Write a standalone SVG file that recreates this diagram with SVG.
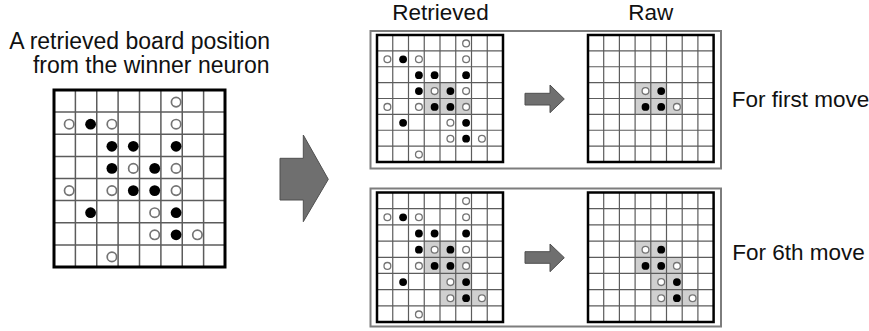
<svg xmlns="http://www.w3.org/2000/svg" width="869" height="331" viewBox="0 0 869 331">
<style>
.t{font-family:"Liberation Sans",Arial,sans-serif;fill:#111}
.bg{fill:#fff}
.hl{fill:#d0d0d0}
.gl{fill:none;stroke:#5c5c5c;stroke-width:1.5}
.gs{fill:none;stroke:#5c5c5c;stroke-width:1.2}
.bl{fill:none;stroke:#000;stroke-width:3}
.bs{fill:none;stroke:#000;stroke-width:2.5}
.panel{fill:#fff;stroke:#7d7d7d;stroke-width:2}
.arr{fill:#6f6f6f;stroke:#4f4f4f;stroke-width:1}
.wL{fill:#fff;stroke:#747474;stroke-width:1.7}
.bL{fill:#000}
.wS{fill:#fff;stroke:#747474;stroke-width:1.3}
.bS{fill:#000}
</style>
<rect width="869" height="331" fill="#fff"/>

<g id="label-left">
<text class="t" x="270" y="49" font-size="23" text-anchor="end">A retrieved board position</text>
<text class="t" x="269.5" y="72.7" font-size="23" text-anchor="end">from the winner neuron</text>
</g>
<g id="label-retrieved"><text class="t" x="440.5" y="20" font-size="22.5" text-anchor="middle">Retrieved</text></g>
<g id="label-raw"><text class="t" x="650.8" y="20" font-size="22.5" text-anchor="middle">Raw</text></g>

<g id="panel-first"><rect class="panel" x="370.5" y="31" width="350.5" height="137.5"/></g>
<g id="panel-sixth"><rect class="panel" x="370.5" y="188.5" width="350.5" height="138"/></g>

<g id="board-left">
<rect class="bg" x="54" y="90" width="171" height="177"/>
<path class="gl" d="M75.4 90V267M96.75 90V267M118.1 90V267M139.5 90V267M160.9 90V267M182.25 90V267M203.6 90V267M54 112.1H225M54 134.25H225M54 156.4H225M54 178.5H225M54 200.6H225M54 222.75H225M54 244.9H225"/>
<rect class="bl" x="54" y="90" width="171" height="177"/>
<g>
<circle class="wL" cx="176.1" cy="102.1" r="4.7"/>
<circle class="wL" cx="69.2" cy="124.2" r="4.7"/>
<circle class="wL" cx="111.9" cy="124.2" r="4.7"/>
<circle class="wL" cx="176.1" cy="124.2" r="4.7"/>
<circle class="wL" cx="133.3" cy="168.4" r="4.7"/>
<circle class="wL" cx="176.1" cy="168.4" r="4.7"/>
<circle class="wL" cx="69.2" cy="190.6" r="4.7"/>
<circle class="wL" cx="111.9" cy="190.6" r="4.7"/>
<circle class="wL" cx="176.1" cy="190.6" r="4.7"/>
<circle class="wL" cx="154.7" cy="212.7" r="4.7"/>
<circle class="wL" cx="154.7" cy="234.8" r="4.7"/>
<circle class="wL" cx="197.4" cy="234.8" r="4.7"/>
<circle class="wL" cx="111.9" cy="256.9" r="4.7"/>
<circle class="bL" cx="90.6" cy="124.2" r="5.4"/>
<circle class="bL" cx="111.9" cy="146.3" r="5.4"/>
<circle class="bL" cx="133.3" cy="146.3" r="5.4"/>
<circle class="bL" cx="176.1" cy="146.3" r="5.4"/>
<circle class="bL" cx="111.9" cy="168.4" r="5.4"/>
<circle class="bL" cx="154.7" cy="168.4" r="5.4"/>
<circle class="bL" cx="133.3" cy="190.6" r="5.4"/>
<circle class="bL" cx="154.7" cy="190.6" r="5.4"/>
<circle class="bL" cx="90.6" cy="212.7" r="5.4"/>
<circle class="bL" cx="176.1" cy="212.7" r="5.4"/>
<circle class="bL" cx="176.1" cy="234.8" r="5.4"/>
</g>
</g>

<g id="board-retrieved-first">
<rect class="bg" x="377" y="35" width="126" height="127"/>
<rect class="hl" x="424.25" y="82.6" width="31.5" height="15.9"/>
<rect class="hl" x="424.25" y="98.5" width="47.25" height="15.9"/>
<path class="gs" d="M392.75 35V162M408.5 35V162M424.25 35V162M440 35V162M455.75 35V162M471.5 35V162M487.25 35V162M377 50.9H503M377 66.75H503M377 82.6H503M377 98.5H503M377 114.4H503M377 130.25H503M377 146.1H503"/>
<rect class="bs" x="377" y="35" width="126" height="127"/>
<g>
<circle class="wS" cx="466.1" cy="43.4" r="3.4"/>
<circle class="wS" cx="387.4" cy="59.3" r="3.4"/>
<circle class="wS" cx="418.9" cy="59.3" r="3.4"/>
<circle class="wS" cx="466.1" cy="59.3" r="3.4"/>
<circle class="wS" cx="434.6" cy="91.1" r="3.4"/>
<circle class="wS" cx="466.1" cy="91.1" r="3.4"/>
<circle class="wS" cx="387.4" cy="106.9" r="3.4"/>
<circle class="wS" cx="418.9" cy="106.9" r="3.4"/>
<circle class="wS" cx="466.1" cy="106.9" r="3.4"/>
<circle class="wS" cx="450.4" cy="122.8" r="3.4"/>
<circle class="wS" cx="450.4" cy="138.7" r="3.4"/>
<circle class="wS" cx="481.9" cy="138.7" r="3.4"/>
<circle class="wS" cx="418.9" cy="154.6" r="3.4"/>
<circle class="bS" cx="403.1" cy="59.3" r="3.9"/>
<circle class="bS" cx="418.9" cy="75.2" r="3.9"/>
<circle class="bS" cx="434.6" cy="75.2" r="3.9"/>
<circle class="bS" cx="466.1" cy="75.2" r="3.9"/>
<circle class="bS" cx="418.9" cy="91.1" r="3.9"/>
<circle class="bS" cx="450.4" cy="91.1" r="3.9"/>
<circle class="bS" cx="434.6" cy="106.9" r="3.9"/>
<circle class="bS" cx="450.4" cy="106.9" r="3.9"/>
<circle class="bS" cx="403.1" cy="122.8" r="3.9"/>
<circle class="bS" cx="466.1" cy="122.8" r="3.9"/>
<circle class="bS" cx="466.1" cy="138.7" r="3.9"/>
</g>
</g>

<g id="board-raw-first">
<rect class="bg" x="588" y="35" width="125.6" height="127"/>
<rect class="hl" x="635.1" y="82.6" width="31.4" height="15.9"/>
<rect class="hl" x="635.1" y="98.5" width="47.1" height="15.9"/>
<path class="gs" d="M603.7 35V162M619.4 35V162M635.1 35V162M650.8 35V162M666.5 35V162M682.2 35V162M697.9 35V162M588 50.9H713.6M588 66.75H713.6M588 82.6H713.6M588 98.5H713.6M588 114.4H713.6M588 130.25H713.6M588 146.1H713.6"/>
<rect class="bs" x="588" y="35" width="125.6" height="127"/>
<g>
<circle class="wS" cx="645.5" cy="91.1" r="3.4"/>
<circle class="wS" cx="676.9" cy="106.9" r="3.4"/>
<circle class="bS" cx="661.2" cy="91.1" r="3.9"/>
<circle class="bS" cx="645.5" cy="106.9" r="3.9"/>
<circle class="bS" cx="661.2" cy="106.9" r="3.9"/>
</g>
</g>

<g id="board-retrieved-sixth">
<rect class="bg" x="377" y="192.5" width="126" height="129.5"/>
<rect class="hl" x="424.25" y="241.1" width="31.5" height="16.2"/>
<rect class="hl" x="424.25" y="257.3" width="47.25" height="16.2"/>
<rect class="hl" x="440" y="273.45" width="31.5" height="16.2"/>
<rect class="hl" x="440" y="289.6" width="47.25" height="16.2"/>
<path class="gs" d="M392.75 192.5V322M408.5 192.5V322M424.25 192.5V322M440 192.5V322M455.75 192.5V322M471.5 192.5V322M487.25 192.5V322M377 208.7H503M377 224.9H503M377 241.1H503M377 257.3H503M377 273.45H503M377 289.6H503M377 305.8H503"/>
<rect class="bs" x="377" y="192.5" width="126" height="129.5"/>
<g>
<circle class="wS" cx="466.1" cy="201.1" r="3.4"/>
<circle class="wS" cx="387.4" cy="217.3" r="3.4"/>
<circle class="wS" cx="418.9" cy="217.3" r="3.4"/>
<circle class="wS" cx="466.1" cy="217.3" r="3.4"/>
<circle class="wS" cx="434.6" cy="249.7" r="3.4"/>
<circle class="wS" cx="466.1" cy="249.7" r="3.4"/>
<circle class="wS" cx="387.4" cy="265.9" r="3.4"/>
<circle class="wS" cx="418.9" cy="265.9" r="3.4"/>
<circle class="wS" cx="466.1" cy="265.9" r="3.4"/>
<circle class="wS" cx="450.4" cy="282.1" r="3.4"/>
<circle class="wS" cx="450.4" cy="298.2" r="3.4"/>
<circle class="wS" cx="481.9" cy="298.2" r="3.4"/>
<circle class="wS" cx="418.9" cy="314.4" r="3.4"/>
<circle class="bS" cx="403.1" cy="217.3" r="3.9"/>
<circle class="bS" cx="418.9" cy="233.5" r="3.9"/>
<circle class="bS" cx="434.6" cy="233.5" r="3.9"/>
<circle class="bS" cx="466.1" cy="233.5" r="3.9"/>
<circle class="bS" cx="418.9" cy="249.7" r="3.9"/>
<circle class="bS" cx="450.4" cy="249.7" r="3.9"/>
<circle class="bS" cx="434.6" cy="265.9" r="3.9"/>
<circle class="bS" cx="450.4" cy="265.9" r="3.9"/>
<circle class="bS" cx="403.1" cy="282.1" r="3.9"/>
<circle class="bS" cx="466.1" cy="282.1" r="3.9"/>
<circle class="bS" cx="466.1" cy="298.2" r="3.9"/>
</g>
</g>

<g id="board-raw-sixth">
<rect class="bg" x="588" y="192.5" width="125.6" height="129.5"/>
<rect class="hl" x="635.1" y="241.1" width="31.4" height="16.2"/>
<rect class="hl" x="635.1" y="257.3" width="47.1" height="16.2"/>
<rect class="hl" x="650.8" y="273.45" width="31.4" height="16.2"/>
<rect class="hl" x="650.8" y="289.6" width="47.1" height="16.2"/>
<path class="gs" d="M603.7 192.5V322M619.4 192.5V322M635.1 192.5V322M650.8 192.5V322M666.5 192.5V322M682.2 192.5V322M697.9 192.5V322M588 208.7H713.6M588 224.9H713.6M588 241.1H713.6M588 257.3H713.6M588 273.45H713.6M588 289.6H713.6M588 305.8H713.6"/>
<rect class="bs" x="588" y="192.5" width="125.6" height="129.5"/>
<g>
<circle class="wS" cx="645.5" cy="249.7" r="3.4"/>
<circle class="wS" cx="676.9" cy="265.9" r="3.4"/>
<circle class="wS" cx="661.2" cy="282.1" r="3.4"/>
<circle class="wS" cx="661.2" cy="298.2" r="3.4"/>
<circle class="wS" cx="692.6" cy="298.2" r="3.4"/>
<circle class="bS" cx="661.2" cy="249.7" r="3.9"/>
<circle class="bS" cx="645.5" cy="265.9" r="3.9"/>
<circle class="bS" cx="661.2" cy="265.9" r="3.9"/>
<circle class="bS" cx="676.9" cy="282.1" r="3.9"/>
<circle class="bS" cx="676.9" cy="298.2" r="3.9"/>
</g>
</g>

<g id="label-first"><text class="t" x="731.7" y="106.5" font-size="22.5">For first move</text></g>
<g id="label-sixth"><text class="t" x="732.3" y="260" font-size="22.5">For 6th move</text></g>

<g id="connectors">
<polygon class="arr" points="280,158.3 303.3,158.3 303.3,135 328.3,179.3 303.3,221.7 303.3,200 280,200"/>
<polygon class="arr" points="525,93.3 550,93.3 550,85 564.3,99 550,112.7 550,105 525,105"/>
<polygon class="arr" points="525,251.7 550,251.7 550,244 564.3,257.7 550,271.7 550,263.3 525,263.3"/>
</g>
</svg>
